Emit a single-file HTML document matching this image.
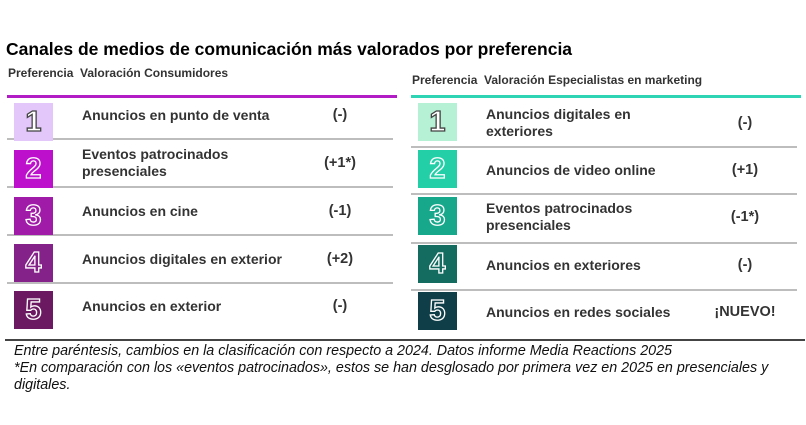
<!DOCTYPE html>
<html><head><meta charset="utf-8"><style>
body{margin:0;width:806px;height:425px;background:#fff;position:relative;overflow:hidden;font-family:"Liberation Sans",Arial,sans-serif;color:#333}
.a{position:absolute}
.t{left:6px;top:39px;font-size:17.5px;font-weight:bold;color:#000}
.h{font-size:12px;font-weight:bold;color:#333}
.ln{height:1.5px;background:#bdbdbd}
.box{width:39px;height:38px;font-size:29px;text-align:center;line-height:39px;font-weight:bold}
.lt{color:#fff;-webkit-text-stroke:1.3px #444}
.dk{-webkit-text-stroke:1.3px #fff}
.tx{font-size:14px;font-weight:bold;color:#333;line-height:17px;display:flex;align-items:center;height:38px}
.v{font-size:14.5px;font-weight:bold;color:#333;width:80px;text-align:center;height:38px;line-height:38px}
.f{left:14px;top:343px;font-size:14.3px;font-style:italic;color:#111;line-height:17px;width:790px}
</style></head><body>
<div class="a t">Canales de medios de comunicación más valorados por preferencia</div>
<div class="a h" style="left:8px;top:66px">Preferencia&nbsp; Valoración Consumidores</div>
<div class="a h" style="left:412px;top:73px">Preferencia&nbsp; Valoración Especialistas en marketing</div>
<div class="a" style="left:7px;top:95px;width:390px;height:3px;background:#b21cc4"></div>
<div class="a" style="left:411px;top:95px;width:390px;height:3px;background:#2ed4b4"></div>

<div class="a ln" style="left:7px;top:138px;width:386px"></div>
<div class="a ln" style="left:7px;top:186px;width:386px"></div>
<div class="a ln" style="left:7px;top:234px;width:386px"></div>
<div class="a ln" style="left:7px;top:282px;width:386px"></div>

<div class="a ln" style="left:411px;top:146px;width:386px"></div>
<div class="a ln" style="left:411px;top:193px;width:386px"></div>
<div class="a ln" style="left:411px;top:242px;width:386px"></div>
<div class="a ln" style="left:411px;top:289px;width:386px"></div>

<div class="a box lt" style="left:14px;top:103px;background:#e3c6fa">1</div>
<div class="a box dk" style="left:14px;top:150px;background:#bd10cc;color:#bd10cc">2</div>
<div class="a box dk" style="left:14px;top:197px;background:#a01ca8;color:#a01ca8">3</div>
<div class="a box dk" style="left:14px;top:244px;background:#85228a;color:#85228a">4</div>
<div class="a box dk" style="left:14px;top:291px;background:#6b1a62;color:#6b1a62">5</div>

<div class="a tx" style="left:82px;top:96px">Anuncios en punto de venta</div>
<div class="a tx" style="left:82px;top:144px">Eventos patrocinados<br>presenciales</div>
<div class="a tx" style="left:82px;top:192px">Anuncios en cine</div>
<div class="a tx" style="left:82px;top:240px">Anuncios digitales en exterior</div>
<div class="a tx" style="left:82px;top:287px">Anuncios en exterior</div>
<div class="a v" style="left:300px;top:96px">(-)</div>
<div class="a v" style="left:300px;top:144px">(+1*)</div>
<div class="a v" style="left:300px;top:192px">(-1)</div>
<div class="a v" style="left:300px;top:240px">(+2)</div>
<div class="a v" style="left:300px;top:287px">(-)</div>

<div class="a box lt" style="left:418px;top:103px;background:#b6f0d5">1</div>
<div class="a box dk" style="left:418px;top:150px;background:#22cfa7;color:#22cfa7">2</div>
<div class="a box dk" style="left:418px;top:197px;background:#17a88c;color:#17a88c">3</div>
<div class="a box dk" style="left:418px;top:245px;background:#146b60;color:#146b60">4</div>
<div class="a box dk" style="left:418px;top:292px;background:#0f3e48;color:#0f3e48">5</div>

<div class="a tx" style="left:486px;top:104px">Anuncios digitales en<br>exteriores</div>
<div class="a tx" style="left:486px;top:151px">Anuncios de video online</div>
<div class="a tx" style="left:486px;top:198px">Eventos patrocinados<br>presenciales</div>
<div class="a tx" style="left:486px;top:246px">Anuncios en exteriores</div>
<div class="a tx" style="left:486px;top:293px">Anuncios en redes sociales</div>
<div class="a v" style="left:705px;top:104px">(-)</div>
<div class="a v" style="left:705px;top:151px">(+1)</div>
<div class="a v" style="left:705px;top:198px">(-1*)</div>
<div class="a v" style="left:705px;top:246px">(-)</div>
<div class="a v" style="left:705px;top:293px">¡NUEVO!</div>

<div class="a" style="left:5px;top:339px;width:800px;height:1.5px;background:#444"></div>
<div class="a f">Entre paréntesis, cambios en la clasificación con respecto a 2024. Datos informe Media Reactions 2025<br>*En comparación con los «eventos patrocinados», estos se han desglosado por primera vez en 2025 en presenciales y<br>digitales.</div>
</body></html>
